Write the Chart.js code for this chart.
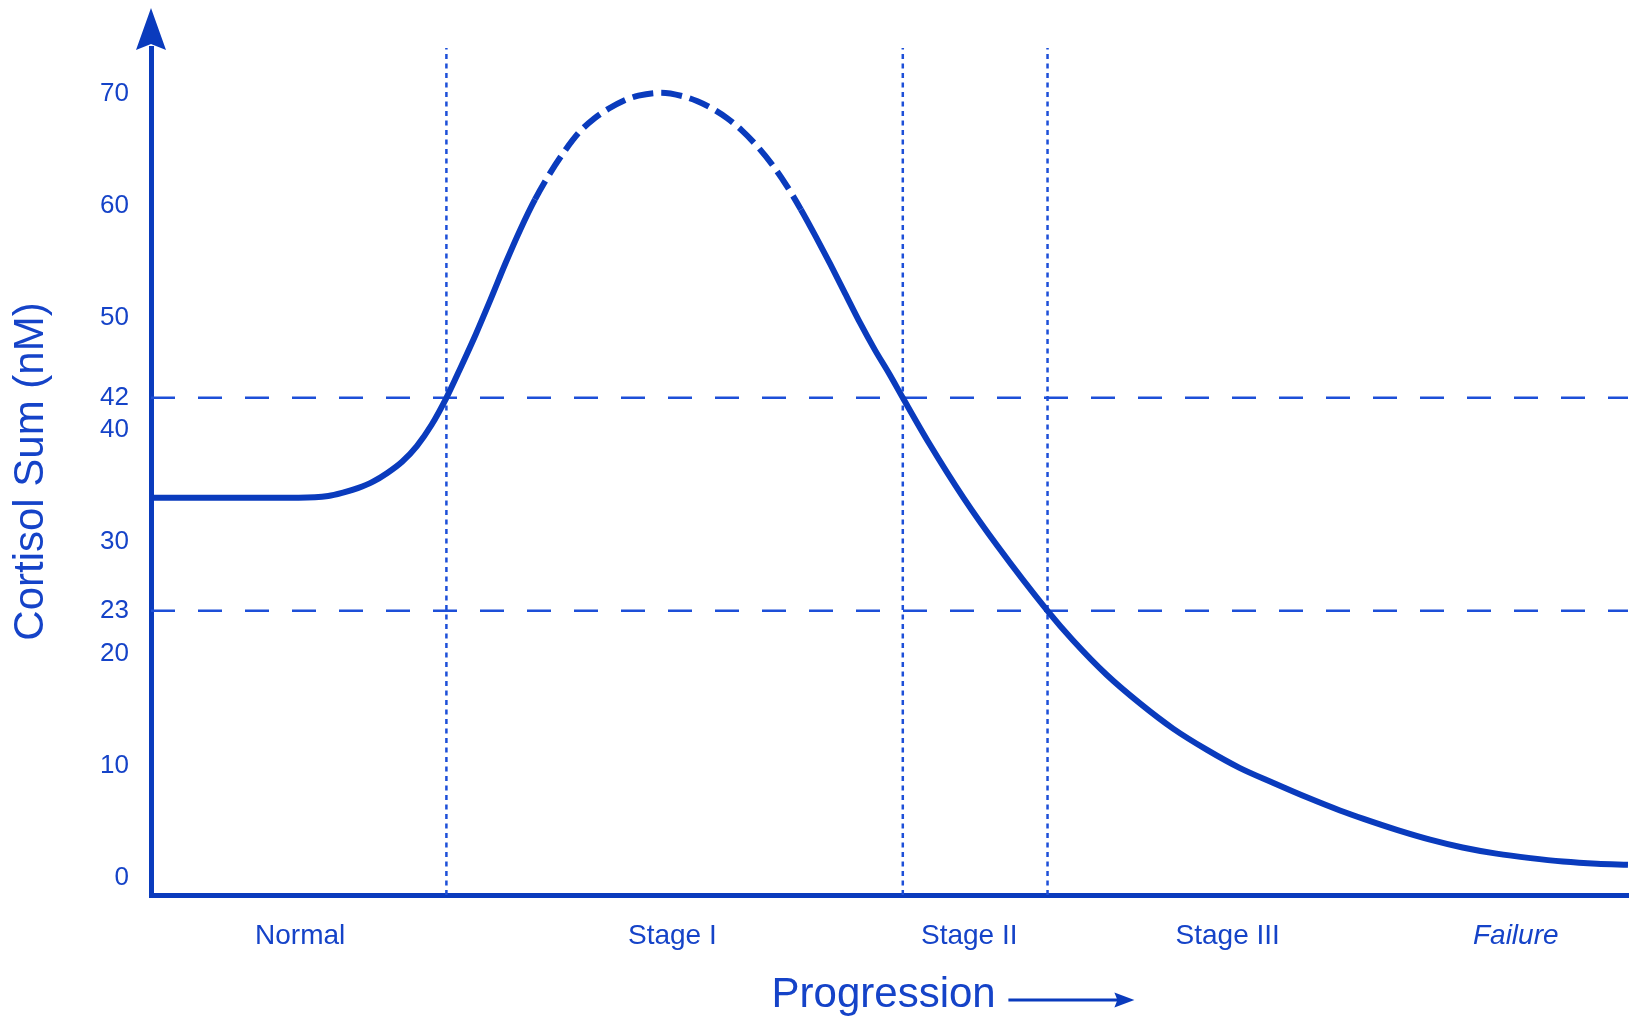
<!DOCTYPE html>
<html>
<head>
<meta charset="utf-8">
<title>Cortisol Sum vs Progression</title>
<script src="https://cdn.jsdelivr.net/npm/chart.js@4.4.1/dist/chart.umd.min.js"></script>
<style>
  html, body { margin: 0; padding: 0; background: #ffffff; }
  #wrap { width: 1636px; height: 1018px; position: relative; }
</style>
</head>
<body>
<div id="wrap"><canvas id="cortisol_chart"></canvas></div>
<script>
// Curve (x = progression 0..100, y = cortisol sum nM)
var progression = [0, 10, 12, 13, 14, 15, 16, 17, 18, 19, 20, 21, 22, 23, 24, 25, 26, 27, 28, 29, 30,
    31, 32, 33, 34.5, 36, 37, 38, 39, 40, 41, 42, 43, 44, 45, 46, 47, 48, 49, 50, 50.9, 52.7, 55.0,
    57.3, 60.7, 62.4, 64.7, 67.0, 69.2, 71.5, 73.7, 76.0, 78.3, 80.5, 82.1, 84.4, 86.6, 88.8, 91.1,
    93.4, 95.6, 97.9, 100];
var cortisol = [33.1, 33.1, 33.25, 33.55, 33.95, 34.5, 35.3, 36.3, 37.7, 39.6, 42.0, 44.8, 47.7, 50.8,
    54.0, 57.0, 59.7, 62.0, 64.0, 65.7, 66.9, 67.8, 68.5, 68.95, 69.2, 68.9, 68.45, 67.8, 66.95, 65.85,
    64.5, 62.9, 61.0, 58.8, 56.4, 53.9, 51.3, 48.7, 46.3, 44.1, 42.0, 37.9, 33.1, 28.8, 23.0, 20.4,
    17.3, 14.7, 12.5, 10.6, 9.0, 7.65, 6.35, 5.2, 4.45, 3.45, 2.6, 1.9, 1.35, 0.95, 0.65, 0.45, 0.35];

// Part of the curve drawn dashed (the peak)
var dashFrom = 26, dashTo = 44;

// Threshold lines and stage boundaries
var thresholds = [42, 23];
var stageBounds = [20, 50.9, 60.7];

// Axis labels
var yTicks = [0, 10, 20, 23, 30, 40, 42, 50, 60, 70];
var stageLabels = ['Normal', 'Stage I', 'Stage II', 'Stage III', 'Failure'];
var stagePositions = [10.1, 35.3, 55.4, 72.9, 92.4];
var xTitle = 'Progression';

// in the figure the round-number labels sit a little below their value
var labelNudge = 0.85;

var yMin = -2.34, yMax = 73.2, xMin = 0, xMax = 100;

var colors = {
    line: '#0a3bbd',
    text: '#1543c8',
    guide: '#1d4fd8'
};

Chart.defaults.font.family = '"Liberation Sans", Arial, sans-serif';
Chart.defaults.color = colors.text;

var curvePoints = progression.map(function (x, i) { return { x: x, y: cortisol[i] }; });

var datasets = [];

// Horizontal dashed thresholds
thresholds.forEach(function (v) {
    datasets.push({
        data: [{ x: xMin, y: v }, { x: xMax, y: v }],
        borderColor: colors.guide,
        borderWidth: 2.5,
        borderDash: [24, 23],
        pointRadius: 0,
        order: 2
    });
});

// Vertical dotted stage boundaries
stageBounds.forEach(function (b) {
    datasets.push({
        data: [{ x: b, y: yMin }, { x: b, y: yMax }],
        borderColor: colors.guide,
        borderWidth: 2.5,
        borderDash: [5, 4.5],
        pointRadius: 0,
        order: 2
    });
});

// Main cortisol curve
datasets.push({
    data: curvePoints,
    borderColor: colors.line,
    borderWidth: 6,
    pointRadius: 0,
    cubicInterpolationMode: 'monotone',
    borderCapStyle: 'butt',
    order: 0,
    segment: {
        borderDash: function (ctx) {
            var x0 = ctx.p0.parsed.x, x1 = ctx.p1.parsed.x;
            return (x0 >= dashFrom && x1 <= dashTo) ? [21, 8] : undefined;
        }
    }
});

function arrowHead(ctx, tipX, tipY, dirX, dirY, len, half, notch) {
    // dir is a unit vector pointing where the arrow points
    var bx = tipX - dirX * len, by = tipY - dirY * len;
    var nx = -dirY, ny = dirX;
    ctx.beginPath();
    ctx.moveTo(tipX, tipY);
    ctx.lineTo(bx + nx * half, by + ny * half);
    ctx.lineTo(bx + dirX * notch, by + dirY * notch);
    ctx.lineTo(bx - nx * half, by - ny * half);
    ctx.closePath();
    ctx.fill();
}

// Arrow heads on the y axis and after the x title
var arrowPlugin = {
    id: 'arrows',
    afterDraw: function (chart) {
        var ctx = chart.ctx;
        var area = chart.chartArea;
        ctx.save();
        ctx.fillStyle = colors.line;
        ctx.strokeStyle = colors.line;

        // y axis arrow
        arrowHead(ctx, area.left, area.top - 40, 0, -1, 42, 15, 6);

        // Progression arrow (title is drawn with one trailing space)
        ctx.font = '42px "Liberation Sans", Arial, sans-serif';
        var wFull = ctx.measureText(xTitle + ' ').width;
        var cx = (area.left + area.right) / 2;
        var start = cx + wFull / 2 + 1;
        var end = start + 126;
        var y = 1000;
        ctx.lineWidth = 3;
        ctx.beginPath();
        ctx.moveTo(start, y);
        ctx.lineTo(end - 14, y);
        ctx.stroke();
        arrowHead(ctx, end, y, 1, 0, 20, 7.5, 3);
        ctx.restore();
    }
};

var chartCtx = document.getElementById('cortisol_chart').getContext('2d');
new Chart(chartCtx, {
    type: 'line',
    data: { datasets: datasets },
    plugins: [arrowPlugin],
    options: {
        responsive: true,
        maintainAspectRatio: false,
        animation: false,
        layout: { padding: { top: 48, right: 8, left: 0, bottom: 0 } },
        plugins: {
            legend: { display: false },
            tooltip: { enabled: false }
        },
        scales: {
            x: {
                type: 'linear',
                min: xMin,
                max: xMax,
                afterFit: function (scale) { scale.height = 123; },
                afterBuildTicks: function (scale) {
                    scale.ticks = stagePositions.map(function (p) { return { value: p }; });
                },
                grid: { display: false, drawTicks: false },
                border: { display: true, color: colors.line, width: 5 },
                ticks: {
                    autoSkip: false,
                    maxRotation: 0,
                    padding: 24,
                    color: colors.text,
                    font: function (ctx) {
                        var italic = ctx.tick && ctx.tick.value === stagePositions[4];
                        return { size: 28, style: italic ? 'italic' : 'normal' };
                    },
                    callback: function (value, index) {
                        return stageLabels[index];
                    }
                },
                title: {
                    display: true,
                    text: xTitle + ' ',
                    color: colors.text,
                    font: { size: 42 },
                    padding: { top: 0, bottom: -3 }
                }
            },
            y: {
                type: 'linear',
                min: yMin,
                max: yMax,
                afterFit: function (scale) { scale.width = 151; },
                afterBuildTicks: function (scale) {
                    scale.ticks = yTicks.map(function (v) {
                        var onLine = thresholds.indexOf(v) >= 0;
                        return { value: onLine ? v : v - labelNudge };
                    });
                },
                grid: { display: false, drawTicks: false },
                border: { display: true, color: colors.line, width: 5 },
                ticks: {
                    autoSkip: false,
                    padding: 22,
                    color: colors.text,
                    font: { size: 26 },
                    callback: function (value, index) {
                        return String(yTicks[index]);
                    }
                },
                title: {
                    display: true,
                    text: 'Cortisol Sum (nM)',
                    color: colors.text,
                    font: { size: 42 },
                    padding: { top: 6, bottom: 0 }
                }
            }
        }
    }
});
</script>
</body>
</html>
